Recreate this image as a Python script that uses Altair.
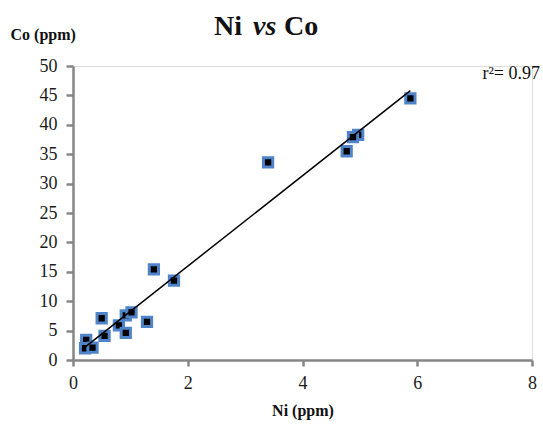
import altair as alt
import pandas as pd

ni = [0.23, 0.21, 0.34, 0.50, 0.55, 0.80, 0.92, 0.92, 1.02, 1.29, 1.41, 1.76,
      3.40, 4.97, 4.77, 4.88, 5.88]
co = [3.4, 2.0, 2.1, 7.1, 4.1, 5.9, 4.6, 7.6, 8.1, 6.5, 15.4, 13.5,
      33.6, 38.3, 35.5, 37.9, 44.5]
x_ticks = [0, 2, 4, 6, 8]
y_ticks = [0, 5, 10, 15, 20, 25, 30, 35, 40, 45, 50]

df = pd.DataFrame({"Ni": ni, "Co": co})

W, H = 459, 294
FONT = "Liberation Serif"
AX = "#868686"

x_axis = alt.Axis(values=x_ticks, format="d", title="Ni (ppm)", grid=False,
                  tickSize=6, labelPadding=8,
                  titleX=W / 2, titleY=55, titleBaseline="alphabetic",
                  labelFlush=False, labelOverlap=False)
y_axis = alt.Axis(values=y_ticks, format="d", title="Co (ppm)", grid=False,
                  tickSize=7, labelPadding=9,
                  titleAngle=0, titleX=-63, titleY=-27, titleAlign="left",
                  titleBaseline="alphabetic", labelFlush=False, labelOverlap=False)

x_enc = alt.X("Ni:Q", scale=alt.Scale(domain=[0, 8], nice=False), axis=x_axis)
y_enc = alt.Y("Co:Q", scale=alt.Scale(domain=[0, 50], nice=False), axis=y_axis)

points = alt.Chart(df).mark_square(size=86, filled=True, fill="black", stroke="#4f84c8",
                                   strokeWidth=3, opacity=1).encode(x=x_enc, y=y_enc)

fit = alt.Chart(df).transform_regression("Ni", "Co").mark_line(
    color="black", strokeWidth=1.5).encode(x=x_enc, y=y_enc)

def label(txt, x, y, size=28, weight="bold", style="normal", align="left"):
    return alt.Chart(pd.DataFrame({"t": [txt]})).mark_text(
        font=FONT, fontSize=size, fontWeight=weight, fontStyle=style,
        align=align, baseline="alphabetic", color="#111111").encode(
        x=alt.value(x), y=alt.value(y), text="t:N")

t1 = label("Ni", 141, -31)
t2 = label("vs", 180, -31, style="italic")
t3 = label("Co", 211, -31)
r2 = label("r\u00b2= 0.97", 467, 13, size=18, weight="normal", align="right")

chart = alt.layer(points, fit, t1, t2, t3, r2).properties(
    width=W, height=H,
    autosize=alt.AutoSizeParams(type="none"),
    padding={"left": 73, "top": 66, "right": 11, "bottom": 64},
).configure_view(stroke=None).configure(background="white", font=FONT).configure_axis(
    domainColor=AX, domainWidth=2.5, tickColor=AX, tickWidth=2.5,
    labelFont=FONT, labelFontSize=18, labelColor="#1a1a1a",
    titleFont=FONT, titleFontSize=16, titleFontWeight="bold", titleColor="#111111",
)

chart.save("out.html", embed_options={"renderer": "svg", "actions": False})
